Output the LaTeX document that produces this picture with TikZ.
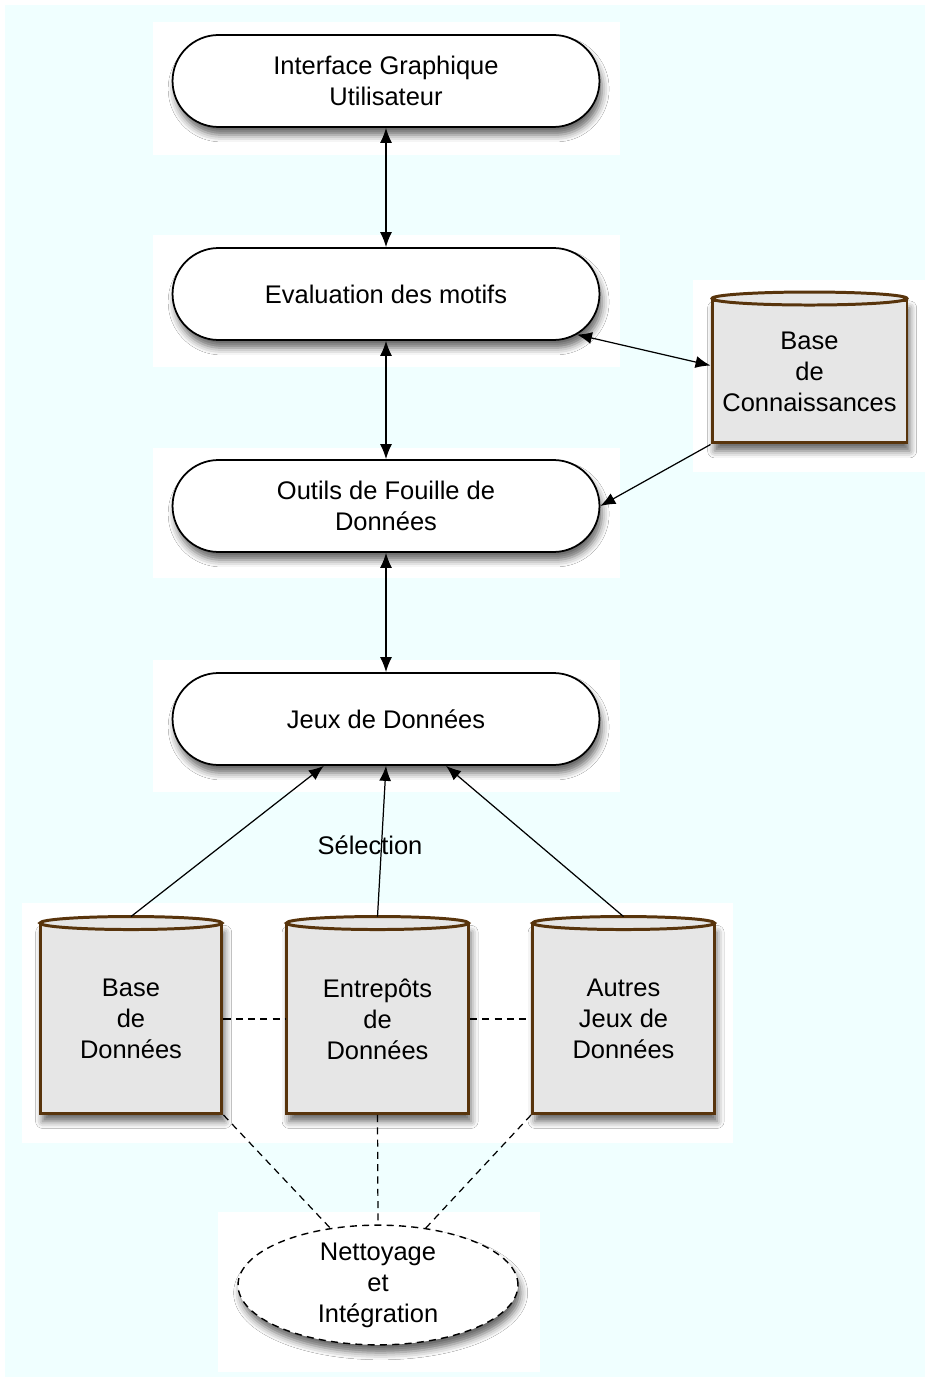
\documentclass[tikz,border=0pt]{standalone}
\usepackage{fontspec}
\setmainfont{Liberation Sans}
\usetikzlibrary{shapes.misc,shapes.geometric,arrows.meta,shadows.blur}
\definecolor{fond}{RGB}{240,255,255}
\definecolor{brun}{RGB}{88,52,12}
\definecolor{grisbd}{RGB}{230,230,230}
\tikzset{
  ombre/.style={blur shadow={shadow xshift=1.5pt,shadow yshift=-4.5pt,shadow blur radius=4pt,shadow opacity=60}},
  etape/.style={rounded rectangle,draw,line width=1pt,fill=white,minimum width=8.54cm,minimum height=1.84cm,inner sep=0pt,align=center,ombre},
  cylindre/.style={rectangle,draw=brun,line width=1.7pt,fill=grisbd,inner sep=0pt,align=center,ombre},
  fleche/.style={-{Latex[length=0.3cm,width=0.24cm]},line width=0.7pt},
  dfleche/.style={{Latex[length=0.3cm,width=0.24cm]}-{Latex[length=0.3cm,width=0.24cm]},line width=0.7pt},
  tirets/.style={dash pattern=on 4pt off 3pt,line width=0.7pt}
}
\begin{document}
\begin{tikzpicture}[x=0.02cm,y=-0.02cm,font=\fontsize{14.5}{17.6}\selectfont]
                \useasboundingbox (0,0) rectangle (930,1381);
                \fill[white] (0,0) rectangle (930,1381);
                \fill[fond] (5,5) rectangle (925,1377);
                % cadres blancs
                \fill[white] (153,22) rectangle (620,155);
                \fill[white] (153,235) rectangle (620,367);
                \fill[white] (153,448) rectangle (620,578);
                \fill[white] (153,660) rectangle (620,792);
                \fill[white] (693,280) rectangle (927,472);
                \fill[white] (22,903) rectangle (733,1143);
                \fill[white] (218,1212) rectangle (540,1372);
                % etapes
                \node[etape] (gui) at (386,81) {Interface Graphique\\Utilisateur};
                \node[etape] (eval) at (386,294) {Evaluation des motifs};
                \node[etape] (fouille) at (386,506) {Outils de Fouille de\\Données};
                \node[etape] (jeux) at (386,719) {Jeux de Données};
                % bases
                \node[cylindre,minimum width=3.9cm,minimum height=2.86cm] (kb) at (809.5,371.5) {Base\\de\\Connaissances};
                \node[cylindre,minimum width=3.64cm,minimum height=3.78cm] (bdd) at (131,1019) {Base\\de\\Données};
                \node[cylindre,minimum width=3.64cm,minimum height=3.78cm] (entrepots) at (377.5,1019) {Entrepôts\\de\\Données};
                \node[cylindre,minimum width=3.64cm,minimum height=3.78cm] (autres) at (623.5,1019) {Autres\\Jeux de\\Données};
                \draw[draw=brun,line width=1.7pt,fill=grisbd] (kb.north) ellipse [x radius=1.95cm,y radius=0.13cm];
                \foreach \c in {bdd,entrepots,autres}
                    \draw[draw=brun,line width=1.7pt,fill=grisbd] (\c.north) ellipse [x radius=1.82cm,y radius=0.13cm];
                \node[ellipse,draw,tirets,line width=0.8pt,fill=white,minimum width=5.6cm,minimum height=2.36cm,inner sep=0pt,align=center,ombre] (nettoyage) at (378,1285) {Nettoyage\\et\\Intégration};
                \node (selection) at (370,845) {Sélection};
                % liaisons
                \draw[dfleche] (gui.south) -- (eval.north);
                \draw[dfleche] (eval.south) -- (fouille.north);
                \draw[dfleche] (fouille.south) -- (jeux.north);
                \draw[dfleche] (eval.-12) -- ([yshift=0.12cm]kb.west);
                \draw[fleche] (kb.south west) -- (fouille.east);
                \draw[fleche] ([yshift=0.13cm]bdd.north) -- (jeux.-143);
                \draw[fleche] ([yshift=0.13cm]entrepots.north) -- (jeux.south);
                \draw[fleche] ([yshift=0.13cm]autres.north) -- (jeux.-38);
                \draw[tirets] (bdd.east) -- (entrepots.west);
                \draw[tirets] (entrepots.east) -- (autres.west);
                \draw[tirets] (bdd.south east) -- (nettoyage.130);
                \draw[tirets] (entrepots.south) -- (nettoyage.north);
                \draw[tirets] (autres.south west) -- (nettoyage.50);
            \end{tikzpicture}
\end{document}
